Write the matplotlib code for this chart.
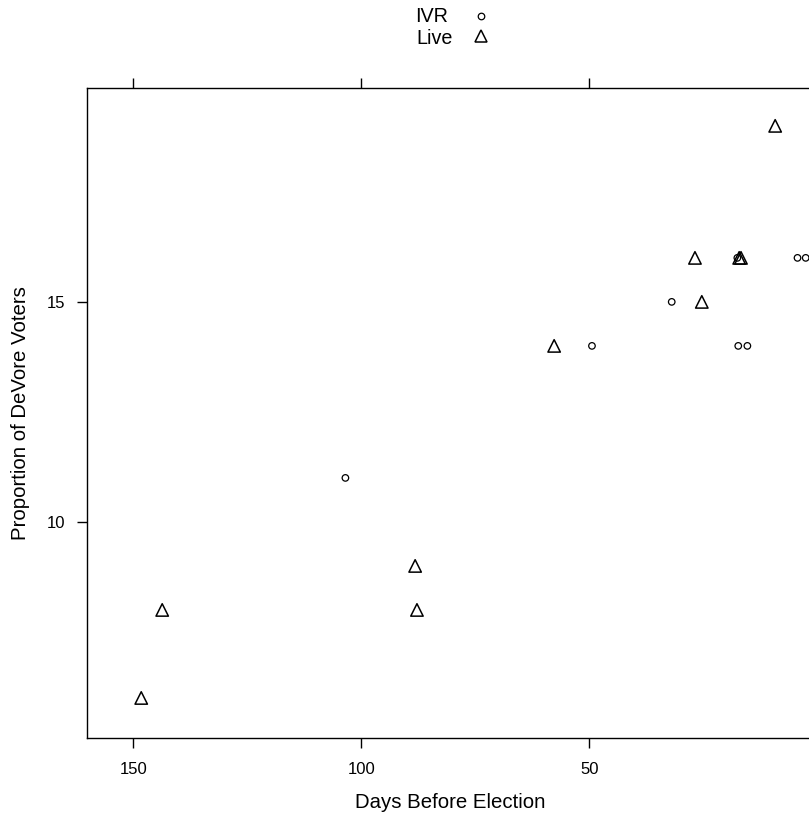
import matplotlib
matplotlib.use('Agg')
import matplotlib.pyplot as plt

plt.rcParams['font.family'] = ['Liberation Sans', 'DejaVu Sans']

# IVR polls
ivr_days = [103.5, 49.4, 31.9, 17.5, 17.3, 15.3, 4.3, 2.5]
ivr_pct = [11, 14, 15, 16, 14, 14, 16, 16]

# Live polls
live_days = [148.3, 143.7, 88.2, 87.8, 57.7, 26.8, 25.3, 17.1, 16.7, 9.2]
live_pct = [6, 8, 9, 8, 14, 16, 15, 16, 16, 19]

x_ticks = [150, 100, 50]
y_ticks = [10, 15]

W, H = 809, 814
fig = plt.figure(figsize=(W / 100, H / 100), dpi=100)
# axes box runs just past the right edge of the picture, as in the reference
ax = fig.add_axes([87 / W, (H - 738) / H, (813 - 87) / W, (738 - 88) / H])

ax.scatter(ivr_days, ivr_pct, marker='o', s=22, facecolors='none',
           edgecolors='black', linewidths=0.9, label='IVR', clip_on=False)
ax.scatter(live_days, live_pct, marker='^', s=80, facecolors='none',
           edgecolors='black', linewidths=1.1, label='Live', clip_on=False)

ax.set_xlim(160.2, 0.9)
ax.set_ylim(5.09, 19.86)
ax.set_xticks(x_ticks)
ax.set_yticks(y_ticks)
ax.tick_params(axis='x', top=True, bottom=True, labeltop=False, direction='out',
               length=7, width=1, labelsize=12, pad=10)
ax.tick_params(axis='y', left=True, right=False, direction='out',
               length=7, width=1, labelsize=12, pad=9)
for sp in ax.spines.values():
    sp.set_linewidth(1)

ax.set_xlabel('Days Before Election', fontsize=14.7, labelpad=12)
ax.set_ylabel('Proportion of DeVore Voters', fontsize=14.7, labelpad=12)

# legend on top, lattice style: labels left, symbols right
fig.text(448 / W, 1 - 17 / H, 'IVR', ha='right', va='center', fontsize=14.2)
fig.text(453 / W, 1 - 39 / H, 'Live', ha='right', va='center', fontsize=14.2)
fig.lines.append(plt.Line2D([481 / W], [1 - 16 / H], marker='o', markersize=4.7,
                            mfc='none', mec='black', mew=0.9, ls='none',
                            transform=fig.transFigure))
fig.lines.append(plt.Line2D([481 / W], [1 - 36 / H], marker='^', markersize=8.9,
                            mfc='none', mec='black', mew=1.1, ls='none',
                            transform=fig.transFigure))

fig.savefig('out.png', dpi=100)
